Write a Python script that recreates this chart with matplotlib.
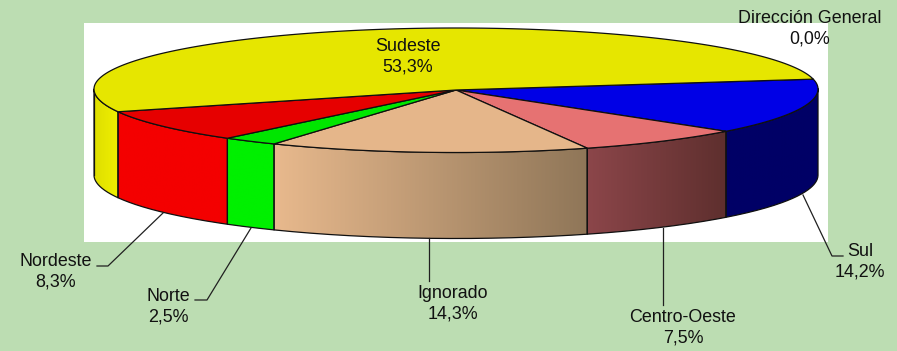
import numpy as np
import matplotlib
matplotlib.use("Agg")
import matplotlib.pyplot as plt
from matplotlib.patches import Polygon, Rectangle
from matplotlib.colors import LinearSegmentedColormap

categories = ["Sul", "Centro-Oeste", "Ignorado", "Norte", "Nordeste", "Sudeste", "Dirección General"]
values = [14.2, 7.5, 14.3, 2.5, 8.3, 53.3, 0.0]
value_labels = ["14,2%", "7,5%", "14,3%", "2,5%", "8,3%", "53,3%", "0,0%"]

top_colors = ["#0000E6", "#E67272", "#E5B68A", "#00E600", "#E60000", "#E6E600", "#E6E600"]
side_colors = [("#000066", "#000066"), ("#8C464A", "#5E2F2E"), ("#E8B98D", "#8F7658"),
               ("#00F000", "#00F000"), ("#F40000", "#F40000"), ("#DEDE00", "#F0F000"),
               ("#F0F000", "#F0F000")]

W, H = 897, 351
BG = "#BCDDB2"
cx, cy, a = 456.0, 89.0, 362.0
b_back, b_front = 61.0, 63.5
depth = 86.0
start = -9.3

fig = plt.figure(figsize=(W / 100, H / 100), dpi=100, facecolor=BG)
ax = fig.add_axes([0, 0, 1, 1])
ax.set_xlim(0, W)
ax.set_ylim(H, 0)
ax.axis("off")
ax.add_patch(Rectangle((84, 23), 744, 219, fc="white", ec="none", zorder=0))


def rim(t):
    t = np.radians(t)
    s = np.sin(t)
    return np.column_stack([cx + a * np.cos(t), cy + np.where(s < 0, b_back, b_front) * s])


shares = np.array(values) / sum(values) * 360
edges = start + np.concatenate([[0], np.cumsum(shares)])

# side walls: only the front half (0..180 degrees) is visible
for i in range(len(values)):
    t0, t1 = max(edges[i], 0), min(edges[i + 1], 180)
    if t1 <= t0:
        continue
    ts = np.linspace(t0, t1, 80)
    upper = rim(ts)
    lower = upper + [0, depth]
    poly = np.vstack([upper, lower[::-1]])
    wall = Polygon(poly, closed=True, fc="none", ec="none", zorder=2)
    ax.add_patch(wall)
    x0, x1 = poly[:, 0].min(), poly[:, 0].max()
    y0, y1 = poly[:, 1].min(), poly[:, 1].max()
    cmap = LinearSegmentedColormap.from_list("w", side_colors[i])
    im = ax.imshow(np.linspace(0, 1, 256)[None, :], cmap=cmap, extent=(x0, x1, y1, y0),
                   aspect="auto", zorder=2, interpolation="bilinear")
    im.set_clip_path(wall)
    ax.plot(poly[:, 0].tolist() + [poly[0, 0]], poly[:, 1].tolist() + [poly[0, 1]],
            color="#101010", lw=0.9, zorder=3, solid_joinstyle="round")
ax.set_xlim(0, W)
ax.set_ylim(H, 0)

# top faces
for i in range(len(values)):
    if shares[i] <= 0:
        continue
    ts = np.linspace(edges[i], edges[i + 1], 200)
    pts = np.vstack([[cx, cy + 1], rim(ts)])
    ax.add_patch(Polygon(pts, closed=True, fc=top_colors[i], ec="#101010", lw=0.9, zorder=4,
                         joinstyle="round"))

# left silhouette of wall behind the yellow slice
side = rim(np.array([180.0]))
ax.plot([side[0, 0]] * 2, [side[0, 1], side[0, 1] + depth], color="#101010", lw=0.9, zorder=3)

# leader lines
leaders = [
    ([163, 108, 97], [213, 266, 266]),
    ([251, 207, 195], [228, 300, 300]),
    ([429, 429], [238, 281]),
    ([663, 663], [228, 305]),
    ([803, 832, 843], [195, 256, 256]),
]
for xs, ys in leaders:
    ax.plot(xs, ys, color="#202020", lw=0.9, zorder=5)

label_pos = {
    "Sul": (860, 261.5), "Centro-Oeste": (683, 327.5), "Ignorado": (453, 303.5),
    "Norte": (168, 306.5), "Nordeste": (56, 271.5), "Sudeste": (408, 56.5),
    "Dirección General": (810, 28.5),
}
for name, lab in zip(categories, value_labels):
    x, y = label_pos[name]
    ax.text(x, y, f"{name}\n{lab}", ha="center", va="center", fontsize=12.9,
            family="Liberation Sans", color="#111111", linespacing=1.3, zorder=6)

fig.savefig("out.png", dpi=100, facecolor=BG)
